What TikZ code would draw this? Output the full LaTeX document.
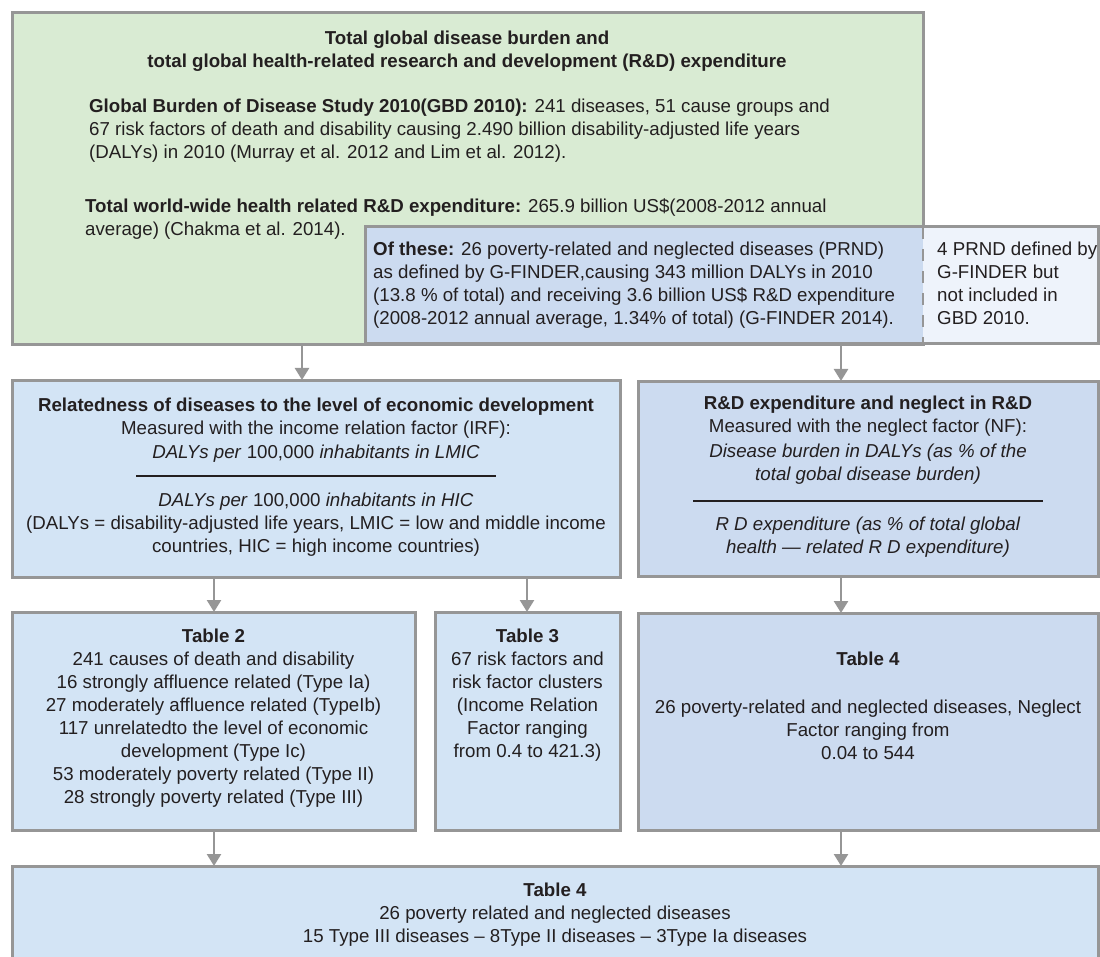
\documentclass[tikz,border=0pt]{standalone}
\usepackage{fontspec}
\setmainfont{Liberation Sans}
\usetikzlibrary{arrows.meta}
\definecolor{bordergray}{RGB}{150,150,150}
\definecolor{greenfill}{RGB}{217,235,211}
\definecolor{bluefill}{RGB}{211,228,245}
\definecolor{bluedark}{RGB}{204,219,240}
\definecolor{bluelight}{RGB}{238,243,251}
\definecolor{txt}{RGB}{35,31,32}
\tikzset{
  panel/.style={draw=bordergray, line width=3pt, anchor=north west, inner sep=0pt, outer sep=0pt},
  bare/.style={anchor=north west, inner sep=0pt, outer sep=0pt},
  txtc/.style={align=center, anchor=base, inner sep=0pt, text=txt, font=\fontsize{18.7}{23}\selectfont},
  txtl/.style={align=left, anchor=base west, inner sep=0pt, text=txt, font=\fontsize{18.7}{23}\selectfont},
  flow/.style={draw=bordergray, line width=2.5pt, -{Triangle[length=12pt,width=14pt]}},
  fracrule/.style={draw=txt, line width=1.6pt},
  divider/.style={draw=bordergray, line width=2.5pt, dash pattern=on 12pt off 10pt},
}
\begin{document}
\begin{tikzpicture}[x=1pt, y=-1pt]
\useasboundingbox (0,0) rectangle (1100,957);
% panels
\node[panel, fill=greenfill, minimum width=911pt, minimum height=332pt] (green) at (12,13) {};
\node[bare, fill=bluedark, minimum width=558pt, minimum height=117pt] (prnd) at (365,227) {};
\node[bare, fill=bluelight, minimum width=175pt, minimum height=117pt] (prndR) at (923,227) {};
\draw[draw=bordergray, line width=3pt] (prnd.north west) rectangle (prndR.south east);
\draw[divider] (prnd.north east) -- (prnd.south east);
\node[panel, fill=bluefill, minimum width=608pt, minimum height=197pt] (rel) at (12,380) {};
\node[panel, fill=bluedark, minimum width=460pt, minimum height=195pt] (rd) at (638,381) {};
\node[panel, fill=bluefill, minimum width=403pt, minimum height=218pt] (t2) at (12,612) {};
\node[panel, fill=bluefill, minimum width=185pt, minimum height=218pt] (t3) at (435,612) {};
\node[panel, fill=bluedark, minimum width=460pt, minimum height=217pt] (t4) at (638,613) {};
\node[panel, fill=bluefill, minimum width=1086pt, minimum height=110pt] (bot) at (12,866) {};
% arrow columns
\coordinate (c1) at (302,0);
\coordinate (c2) at (841,0);
\coordinate (c3) at (214,0);
\coordinate (c4) at (527,0);
\draw[flow] (green.south -| c1) -- (rel.north -| c1);
\draw[flow] (prnd.south -| c2) -- (rd.north -| c2);
\draw[flow] (rel.south -| c3) -- (t2.north -| c3);
\draw[flow] (rel.south -| c4) -- (t3.north -| c4);
\draw[flow] (rd.south -| c2) -- (t4.north -| c2);
\draw[flow] (t2.south -| c3) -- (bot.north -| c3);
\draw[flow] (t4.south -| c2) -- (bot.north -| c2);
% texts (positions give the baseline of the last line)
\node[txtc, font=\fontsize{18.7}{23}\bfseries] (title) at (467,68) {Total global disease burden and\\total global health-related research and development (R\&D) expenditure};
\node[txtl] (gbd) at (89,159) {\textbf{Global Burden of Disease Study 2010(GBD 2010):} 241 diseases, 51 cause groups and\\67 risk factors of death and disability causing 2.490 billion disability-adjusted life years\\(DALYs) in 2010 (Murray et al. 2012 and Lim et al. 2012).};
\node[txtl] (rdtot) at (85,236) {\textbf{Total world-wide health related R\&D expenditure:} 265.9 billion US\$(2008-2012 annual\\average) (Chakma et al. 2014).};
\node[txtl] (prndtxt) at (373,325) {\textbf{Of these:} 26 poverty-related and neglected diseases (PRND)\\as defined by G-FINDER,causing 343 million DALYs in 2010\\(13.8 \% of total) and receiving 3.6 billion US\$ R\&D expenditure\\(2008-2012 annual average, 1.34\% of total) (G-FINDER 2014).};
\node[txtl] (fourtxt) at (937,325) {4 PRND defined by\\G-FINDER but\\not included in\\GBD 2010.};
% relatedness
\node[txtc] (reltxt) at (316,434) {\textbf{Relatedness of diseases to the level of economic development}\\Measured with the income relation factor (IRF):};
\node[txtc] (relnum) at (316,458) {\textit{DALYs per} 100,000 \textit{inhabitants in LMIC}};
\draw[fracrule] (136,476) -- (496,476);
\node[txtc] (relden) at (316,552) {\textit{DALYs per} 100,000 \textit{inhabitants in HIC}\\(DALYs = disability-adjusted life years, LMIC = low and middle income\\countries, HIC = high income countries)};
% R&D
\node[txtc] (rdtxt) at (868,432) {\textbf{R\&D expenditure and neglect in R\&D}\\Measured with the neglect factor (NF):};
\node[txtc] (rdnum) at (868,480) {\textit{Disease burden in DALYs (as \% of the}\\\textit{total gobal disease burden)}};
\draw[fracrule] (693,501) -- (1043,501);
\node[txtc] (rdden) at (868,553) {\textit{R D expenditure (as \% of total global}\\\textit{health — related R D expenditure)}};
% tables
\node[txtc] (t2txt) at (213.5,803) {\textbf{Table 2}\\241 causes of death and disability\\16 strongly affluence related (Type Ia)\\27 moderately affluence related (TypeIb)\\117 unrelatedto the level of economic\\development (Type Ic)\\53 moderately poverty related (Type II)\\28 strongly poverty related (Type III)};
\node[txtc] (t3txt) at (527.5,757) {\textbf{Table 3}\\67 risk factors and\\risk factor clusters\\(Income Relation\\Factor ranging\\from 0.4 to 421.3)};
\node[txtc] (t4txt) at (868,759) {\textbf{Table 4}\\[25pt]26 poverty-related and neglected diseases, Neglect\\Factor ranging from\\0.04 to 544};
\node[txtc] (bottxt) at (555,942) {\textbf{Table 4}\\26 poverty related and neglected diseases\\15 Type III diseases – 8Type II diseases – 3Type Ia diseases};
\end{tikzpicture}
\end{document}
